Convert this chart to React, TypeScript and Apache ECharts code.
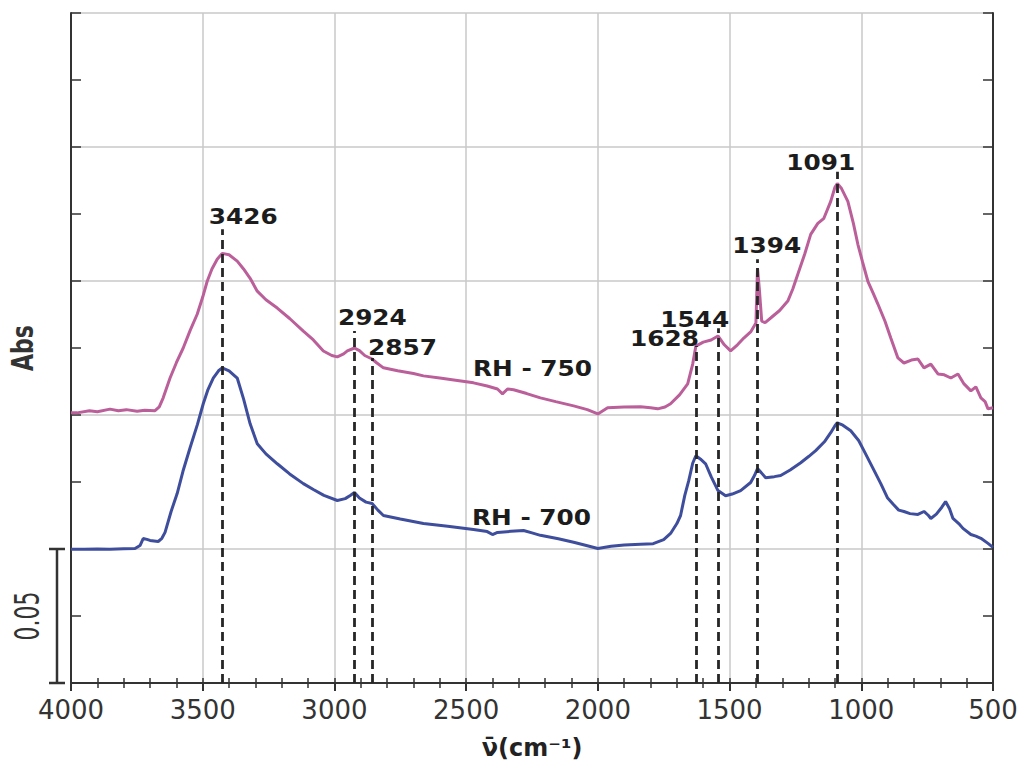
import React, { useEffect, useRef } from 'react';
import * as echarts from 'echarts';

// Wavenumber axis (cm-1), reversed
const xTickValues = [4000, 3500, 3000, 2500, 2000, 1500, 1000, 500];
const xMin = 500;
const xMax = 4000;
// Absorbance axis (a.u.)
const yMin = 0;
const yMax = 0.25;
const scaleBarValue = 0.05;

const seriesNames = ['RH - 750', 'RH - 700'];

const rh750: [number, number][] = [
  [4000, 0.1008], [3977, 0.1008], [3930, 0.1016], [3900, 0.1012], [3852, 0.1022], [3820, 0.1016], [3790, 0.102],
  [3749, 0.1014], [3720, 0.1018], [3681, 0.1016], [3665, 0.103], [3650, 0.1064], [3624, 0.1138], [3600, 0.1195],
  [3574, 0.125], [3548, 0.1315], [3521, 0.1376], [3500, 0.144], [3483, 0.1499], [3465, 0.1545], [3445, 0.1581],
  [3426, 0.1603], [3400, 0.1598], [3369, 0.1574], [3345, 0.1545], [3320, 0.151], [3293, 0.1462], [3260, 0.143],
  [3217, 0.1399], [3170, 0.136], [3118, 0.1313], [3080, 0.128], [3042, 0.1239], [3010, 0.1222], [2989, 0.1217],
  [2965, 0.1228], [2951, 0.1239], [2924, 0.125], [2905, 0.124], [2885, 0.1222], [2857, 0.1209], [2840, 0.1195],
  [2814, 0.1176], [2760, 0.1165], [2700, 0.1155], [2662, 0.1146], [2600, 0.1138], [2540, 0.113], [2472, 0.112],
  [2420, 0.1108], [2381, 0.1097], [2362, 0.1079], [2343, 0.1097], [2320, 0.1094], [2270, 0.108], [2218, 0.1064],
  [2160, 0.105], [2092, 0.1034], [2040, 0.102], [2000, 0.1004], [1963, 0.1027], [1900, 0.103], [1838, 0.1031],
  [1800, 0.1027], [1773, 0.1023], [1745, 0.103], [1724, 0.1042], [1690, 0.1075], [1659, 0.1116], [1640, 0.119],
  [1628, 0.1257], [1600, 0.1272], [1570, 0.128], [1544, 0.1295], [1520, 0.1262], [1496, 0.1239], [1470, 0.1262],
  [1446, 0.1287], [1420, 0.131], [1400, 0.1343], [1394, 0.1548], [1387, 0.147], [1378, 0.135], [1365, 0.1345],
  [1344, 0.1362], [1310, 0.139], [1279, 0.1425], [1260, 0.147], [1241, 0.1525], [1215, 0.16], [1192, 0.1674],
  [1165, 0.1715], [1142, 0.1734], [1116, 0.1797], [1100, 0.185], [1091, 0.1864], [1075, 0.1845], [1051, 0.1797],
  [1030, 0.1715], [1013, 0.1637], [995, 0.157], [975, 0.1499], [955, 0.1455], [937, 0.1414], [910, 0.135],
  [888, 0.1287], [861, 0.1213], [838, 0.1194], [810, 0.1205], [785, 0.1209], [762, 0.1176], [736, 0.119],
  [709, 0.1153], [685, 0.115], [660, 0.1138], [633, 0.1153], [610, 0.1116], [584, 0.109], [565, 0.1105],
  [546, 0.1064], [530, 0.105], [519, 0.1023], [500, 0.1027],
];

const rh700: [number, number][] = [
  [4000, 0.0499], [3950, 0.0499], [3900, 0.05], [3852, 0.0499], [3800, 0.0501], [3757, 0.0502], [3738, 0.0513],
  [3726, 0.0539], [3712, 0.0536], [3700, 0.0532], [3669, 0.0528], [3655, 0.054], [3643, 0.0562], [3620, 0.064],
  [3597, 0.0707], [3575, 0.079], [3548, 0.0878], [3520, 0.0965], [3498, 0.1042], [3480, 0.1095], [3460, 0.1138],
  [3440, 0.1165], [3426, 0.1176], [3400, 0.1165], [3369, 0.1138], [3345, 0.106], [3320, 0.0967], [3293, 0.0893],
  [3260, 0.0855], [3217, 0.0818], [3170, 0.078], [3118, 0.0744], [3080, 0.0722], [3040, 0.07], [2989, 0.0681],
  [2959, 0.0688], [2940, 0.07], [2924, 0.0711], [2905, 0.069], [2880, 0.0675], [2857, 0.067], [2835, 0.0645],
  [2814, 0.0625], [2750, 0.0612], [2662, 0.0595], [2570, 0.0585], [2472, 0.0573], [2420, 0.0565], [2400, 0.0554],
  [2381, 0.0562], [2330, 0.0566], [2282, 0.0569], [2250, 0.056], [2218, 0.0551], [2150, 0.0538], [2092, 0.0525],
  [2040, 0.0512], [2000, 0.0502], [1950, 0.051], [1900, 0.0515], [1838, 0.0518], [1790, 0.052], [1750, 0.0535],
  [1724, 0.0558], [1700, 0.0595], [1686, 0.0625], [1670, 0.07], [1655, 0.0755], [1640, 0.082], [1628, 0.0848],
  [1610, 0.0835], [1591, 0.0818], [1570, 0.077], [1544, 0.0718], [1515, 0.0699], [1490, 0.0705], [1458, 0.0718],
  [1420, 0.0748], [1405, 0.0775], [1394, 0.08], [1380, 0.0785], [1363, 0.0766], [1330, 0.077], [1306, 0.0774],
  [1270, 0.0795], [1230, 0.0822], [1200, 0.0845], [1173, 0.0867], [1140, 0.09], [1116, 0.0934], [1100, 0.096],
  [1091, 0.0971], [1070, 0.0962], [1040, 0.0941], [1010, 0.0905], [990, 0.0867], [955, 0.08], [926, 0.0744],
  [900, 0.069], [877, 0.0665], [858, 0.0645], [838, 0.064], [815, 0.0632], [785, 0.0629], [762, 0.064],
  [745, 0.0625], [736, 0.0614], [715, 0.063], [695, 0.0655], [680, 0.0677], [665, 0.065], [652, 0.0614],
  [630, 0.0595], [614, 0.0577], [584, 0.0554], [565, 0.0548], [546, 0.054], [519, 0.0521], [500, 0.0506],
];

// Marked bands: wavenumber and the absorbance where the dashed guide ends
const peakWavenumbers = [3426, 2924, 2857, 1628, 1544, 1394, 1091];
const peakGuideTops = [0.1693, 0.1313, 0.1213, 0.1257, 0.1324, 0.1581, 0.1908];
// Label anchors (data coordinates)
const peakLabelAnchors: [number, number][] = [
  [3346, 0.1741], [2856, 0.1362], [2742, 0.125], [1747, 0.1283], [1632, 0.1354], [1359, 0.163], [1154, 0.1942],
];
const seriesLabelAnchors: [number, number][] = [[2248, 0.1172], [2252, 0.0618]];

const seriesColors = ['#bb5f9a', '#3e4e9c'];

export default function App() {
  const ref = useRef<HTMLDivElement>(null);

  useEffect(() => {
    const chart = echarts.init(ref.current!, null, { renderer: 'svg' });
    const frameLine = { show: true, lineStyle: { color: '#333', width: 2 } };
    const gridRect = { left: 71, right: 30, top: 13, bottom: 86 };
    const gridLine = { show: true, lineStyle: { color: '#c8c8c8', width: 1.5 } };
    const font = 'DejaVu Sans';

    const frameX = (position: string) => ({
      type: 'value', gridIndex: 0, position, min: xMin, max: xMax, inverse: true, interval: 100,
      axisLine: frameLine,
      axisTick: { show: true, inside: true, length: 5, lineStyle: { color: '#333', width: 1.5 } },
      axisLabel: { show: false }, splitLine: { show: false },
    });
    const frameY = (position: string) => ({
      type: 'value', gridIndex: 0, position, min: yMin, max: yMax, interval: 0.025,
      axisLine: frameLine,
      axisTick: { show: true, inside: true, length: 10, lineStyle: { color: '#333', width: 1.5 } },
      axisLabel: { show: false }, splitLine: { show: false },
    });

    chart.setOption({
      animation: false,
      backgroundColor: '#fff',
      grid: [gridRect, gridRect],
      xAxis: [
        frameX('bottom'),
        frameX('top'),
        {
          type: 'value', gridIndex: 1, position: 'bottom', min: xMin, max: xMax, inverse: true, interval: 500,
          axisLine: { show: false },
          axisTick: { show: true, inside: false, length: 8, lineStyle: { color: '#333', width: 2 } },
          axisLabel: {
            show: true, margin: 14, fontSize: 26, color: '#333', fontFamily: font,
            formatter: (v: number) => (xTickValues.includes(v) ? String(v) : ''),
          },
          splitLine: gridLine,
          name: 'ν\u0304(cm⁻¹)', nameLocation: 'middle', nameGap: 53,
          nameTextStyle: { fontSize: 24, fontWeight: 'bold', color: '#222', fontFamily: font },
        },
      ],
      yAxis: [
        frameY('left'),
        frameY('right'),
        {
          type: 'value', gridIndex: 1, min: yMin, max: yMax, interval: 0.05,
          axisLine: { show: false }, axisTick: { show: false }, axisLabel: { show: false },
          splitLine: gridLine,
        },
      ],
      series: [
        {
          type: 'line', name: seriesNames[0], xAxisIndex: 0, yAxisIndex: 0, data: rh750,
          showSymbol: false, symbol: 'none', lineStyle: { color: seriesColors[0], width: 3 }, z: 3,
          markLine: {
            silent: true, symbol: ['none', 'none'], label: { show: false },
            lineStyle: { type: [9, 5], color: '#262626', width: 2.8 },
            data: peakWavenumbers.map((wn, i) => [{ coord: [wn, yMin] }, { coord: [wn, peakGuideTops[i]] }]),
          },
        },
        {
          type: 'line', name: seriesNames[1], xAxisIndex: 0, yAxisIndex: 0, data: rh700,
          showSymbol: false, symbol: 'none', lineStyle: { color: seriesColors[1], width: 3 }, z: 3,
        },
      ],
    });

    const toPx = (p: [number, number]) => chart.convertToPixel({ seriesIndex: 0 }, p) as number[];
    const textStyle = (text: string) => ({
      text, fontSize: 21, fontWeight: 'bold', fontFamily: font, fill: '#1c1c1c',
      align: 'center', verticalAlign: 'middle', textAlign: 'center', textVerticalAlign: 'middle',
    });
    const graphics: any[] = [];
    peakWavenumbers.forEach((wn, i) => {
      const [x, y] = toPx(peakLabelAnchors[i]);
      graphics.push({ type: 'text', x, y, scaleX: 1.18, z: 10, style: textStyle(String(wn)) });
    });
    seriesNames.forEach((name, i) => {
      const [x, y] = toPx(seriesLabelAnchors[i]);
      graphics.push({ type: 'text', x, y, scaleX: 1.18, z: 10, style: textStyle(name) });
    });

    // Scale bar of 0.05 Abs
    const [axisX, yTop] = toPx([xMax, scaleBarValue]);
    const [, yBottom] = toPx([xMax, yMin]);
    const barX = axisX - 14;
    const barStyle = { stroke: '#333', lineWidth: 2.5 };
    graphics.push({ type: 'line', shape: { x1: barX, y1: yTop, x2: barX, y2: yBottom }, style: barStyle });
    graphics.push({ type: 'line', shape: { x1: barX - 8, y1: yTop, x2: barX + 8, y2: yTop }, style: barStyle });
    graphics.push({ type: 'line', shape: { x1: barX - 8, y1: yBottom, x2: barX + 8, y2: yBottom }, style: barStyle });
    graphics.push({
      type: 'text', x: barX - 29, y: (yTop + yBottom) / 2, rotation: Math.PI / 2, scaleY: 1.5,
      style: {
        text: String(scaleBarValue), fontSize: 22, fontFamily: font, fill: '#333',
        align: 'center', verticalAlign: 'middle', textAlign: 'center', textVerticalAlign: 'middle',
      },
    });
    const [, yMid] = toPx([xMax, (yMin + yMax) / 2]);
    graphics.push({
      type: 'text', x: 22, y: yMid, rotation: Math.PI / 2, scaleY: 1.4,
      style: {
        text: 'Abs', fontSize: 22, fontWeight: 'bold', fontFamily: font, fill: '#333',
        align: 'center', verticalAlign: 'middle', textAlign: 'center', textVerticalAlign: 'middle',
      },
    });

    chart.setOption({ graphic: graphics });
    return () => chart.dispose();
  }, []);

  return (
    <div
      ref={ref}
      style={{ position: 'absolute', left: 0, top: 0, width: 1023, height: 769, background: '#fff' }}
    />
  );
}
